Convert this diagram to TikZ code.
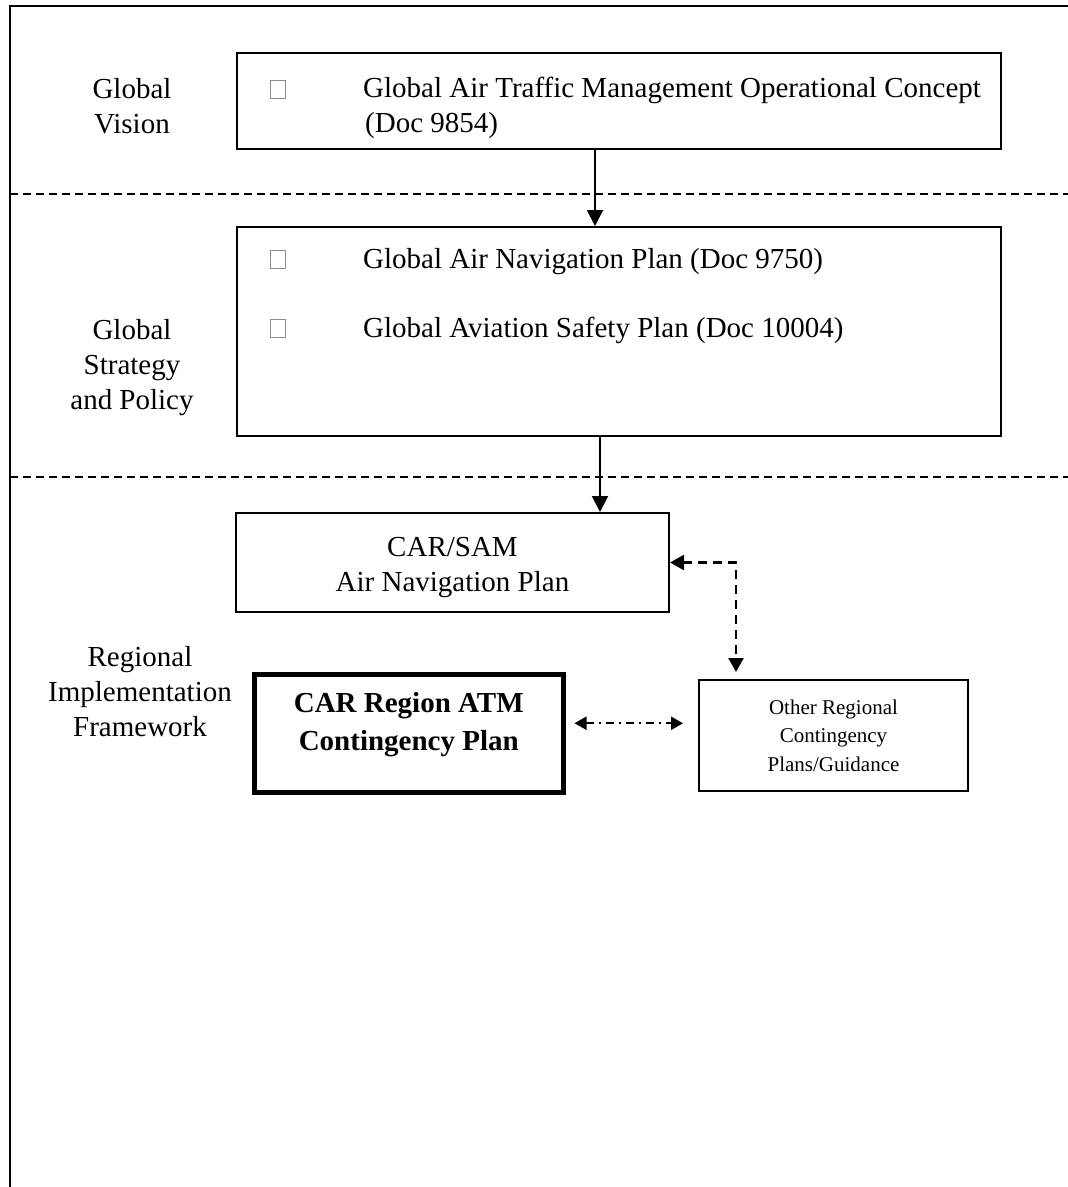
\documentclass[tikz,border=0pt]{standalone}
\usepackage{fontspec}
\setmainfont{Liberation Serif}
\usetikzlibrary{arrows.meta,calc}
\begin{document}
\begin{tikzpicture}[x=1pt,y=1pt,
  box/.style={draw=black,line width=2pt,inner sep=0pt,anchor=north west},
  thickbox/.style={draw=black,line width=4.5pt,inner sep=0pt,anchor=north west},
  big/.style={font=\fontsize{29}{35}\selectfont},
  small/.style={font=\fontsize{21}{28.5}\selectfont},
  lbl/.style={big,align=center,inner sep=0pt},
  itemtext/.style={big,anchor=base west,inner sep=0pt},
  sq/.style={draw=black!45,line width=0.8pt,minimum width=15pt,minimum height=18pt,inner sep=0pt},
  sepline/.style={line width=1.5pt,dash pattern=on 8pt off 5pt},
  arr/.style={line width=2pt,-{Triangle[width=16pt,length=16pt]}},
  darr/.style={line width=2.5pt,dash pattern=on 9pt off 6pt,
    {Triangle[width=15pt,length=14pt]}-{Triangle[width=15pt,length=14pt]}},
  ddarr/.style={line width=2.2pt,dash pattern=on 8pt off 5pt on 2pt off 5pt,
    {Triangle[width=13pt,length=12pt]}-{Triangle[width=13pt,length=12pt]}}
]
\useasboundingbox (0,0) rectangle (1068,-1187);
% outer frame
\draw[line width=2.5pt] (10,-1187) -- (10,-6) -- (1068,-6);
% separators
\draw[sepline] (10,-194) -- (1068,-194);
\draw[sepline] (10,-477) -- (1068,-477);

% left labels
\node[lbl] (gv) at (132,-106) {Global\\Vision};
\node[lbl] (gs) at (132,-368) {Global\\Strategy\\and Policy};
\node[lbl] (rif) at (140,-692) {Regional\\Implementation\\Framework};

% box 1
\node[box,minimum width=764pt,minimum height=96pt] (gatm) at (236,-52) {};
\node[sq] (s1) at (278,-89) {};
\node[itemtext] (t1) at (363,-97) {Global Air Traffic Management Operational Concept};
\node[itemtext] (t1b) at (365,-132) {(Doc 9854)};

% box 2
\node[box,minimum width=764pt,minimum height=209pt] (gsp) at (236,-226) {};
\node[sq] (s2) at (278,-259) {};
\node[itemtext] (t2) at (363,-268) {Global Air Navigation Plan (Doc 9750)};
\node[sq] (s3) at (278,-328) {};
\node[itemtext] (t3) at (363,-337) {Global Aviation Safety Plan (Doc 10004)};

% box 3
\node[box,minimum width=433pt,minimum height=99pt] (csam) at (235,-512) {};
\node[lbl] (csamt) at ($(csam.center)+(0,-5)$) {CAR/SAM\\Air Navigation Plan};

% box 5 (bold)
\node[thickbox,minimum width=309pt,minimum height=118pt] (car) at (252,-672) {};
\node[align=center,inner sep=0pt,font=\fontsize{29}{38}\selectfont\bfseries] (cart)
  at ($(car.center)+(0,9)$) {CAR Region ATM\\Contingency Plan};

% box 4
\node[box,minimum width=269pt,minimum height=111pt,small,align=center] (other) at (698,-679) {Other Regional\\Contingency\\Plans/Guidance};

% connectors
\draw[arr] ([xshift=-24pt]gatm.south) -- ([xshift=-24pt]gatm.south |- gsp.north);
\draw[arr] ([xshift=-19pt]gsp.south) -- ([xshift=-19pt]gsp.south |- csam.north);
\draw[darr,shorten >=7pt] (csam.east) -| ([xshift=38pt]other.north west);
\draw[ddarr] ([xshift=9pt,yshift=10pt]car.east) -- ([xshift=-15pt,yshift=10pt]car.east -| other.west);
\end{tikzpicture}
\end{document}
